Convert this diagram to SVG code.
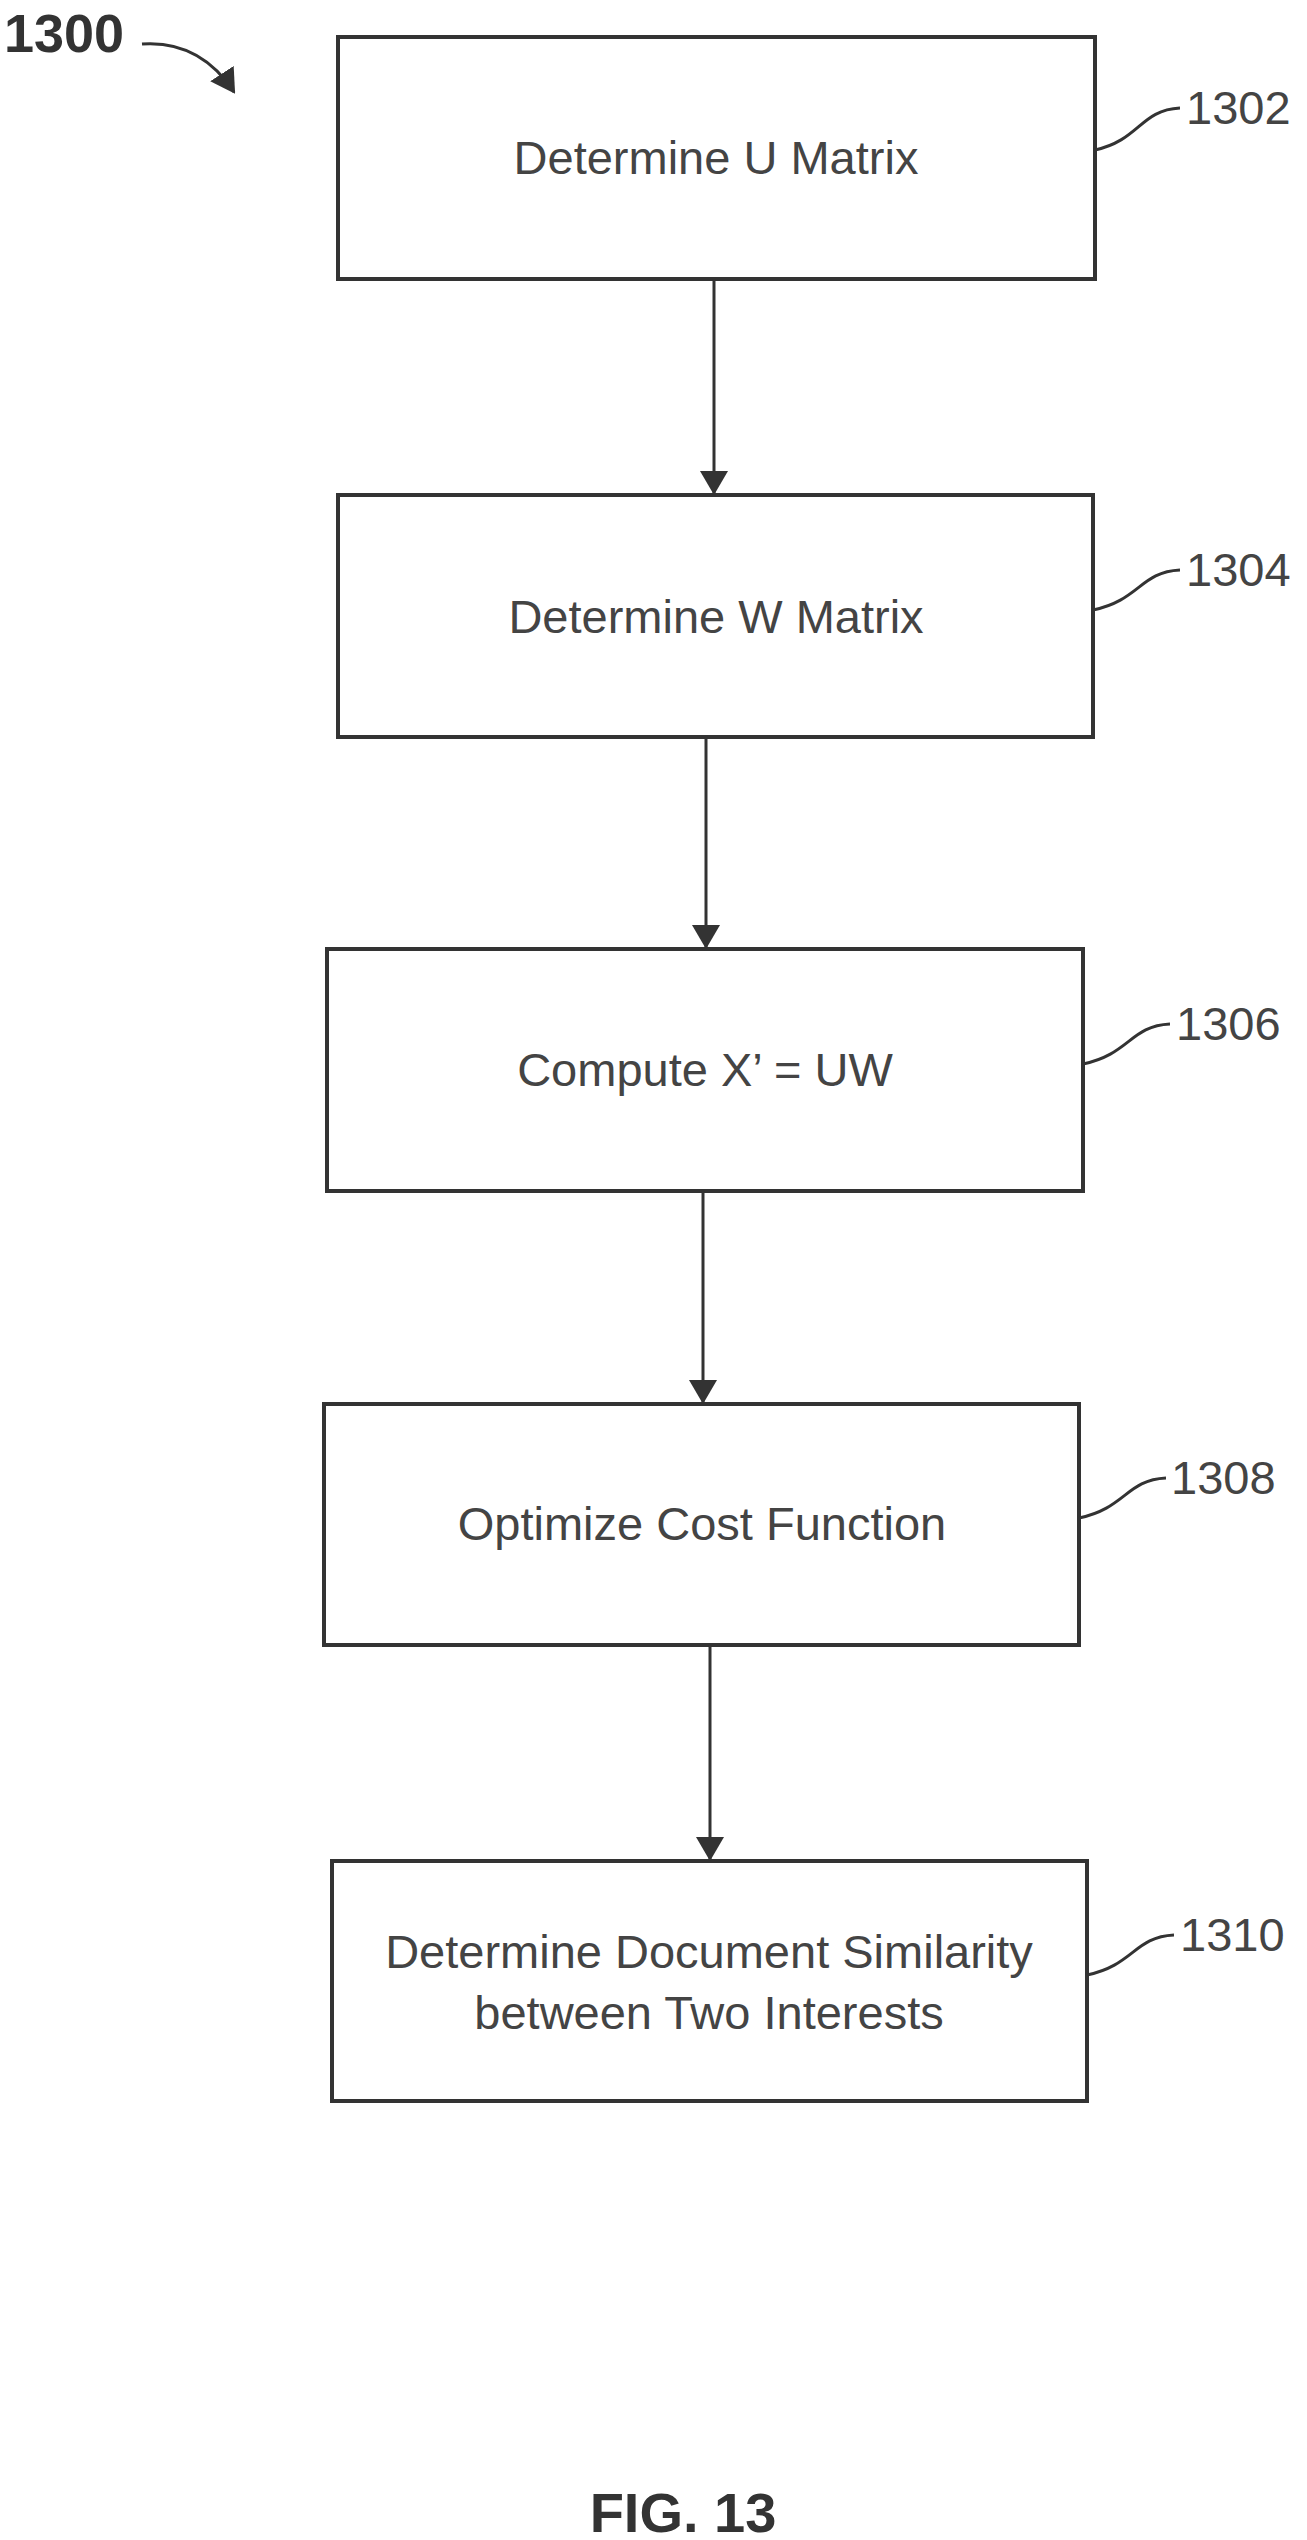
<svg xmlns="http://www.w3.org/2000/svg" width="1307" height="2540" viewBox="0 0 1307 2540">
<style>
.box{fill:#fff;stroke:#333;stroke-width:4}
.t{font-family:"Liberation Sans",Arial,sans-serif;font-size:47px;fill:#444;text-anchor:middle}
.ref{font-family:"Liberation Sans",Arial,sans-serif;font-size:47px;fill:#444}
.ln{fill:none;stroke:#333;stroke-width:3}
</style>
<defs>
<marker id="a2" markerWidth="24" markerHeight="28" refX="22" refY="14" orient="auto" markerUnits="userSpaceOnUse"><path d="M0,0 L24,14 L0,28 z" fill="#333"/></marker></defs>
<text x="4" y="52" style="font-family:'Liberation Sans',Arial,sans-serif;font-size:54px;font-weight:bold;fill:#333">1300</text>
<path class="ln" d="M142,44 Q200,40 234,92" stroke-width="5" marker-end="url(#a2)"/>
<g id="n1302"><rect class="box" x="338" y="37" width="757" height="242"/><text class="t" x="716" y="174">Determine U Matrix</text><path class="ln" d="M1095,150 C1140,140 1140,110 1180,108"/><text class="ref" x="1186" y="124">1302</text></g>
<g id="n1304"><rect class="box" x="338" y="495" width="755" height="242"/><text class="t" x="716" y="633">Determine W Matrix</text><path class="ln" d="M1093,610 C1140,600 1140,572 1180,570"/><text class="ref" x="1186" y="586">1304</text></g>
<g id="n1306"><rect class="box" x="327" y="949" width="756" height="242"/><text class="t" x="705" y="1086">Compute X’ = UW</text><path class="ln" d="M1083,1064 C1130,1054 1130,1026 1170,1024"/><text class="ref" x="1176" y="1040">1306</text></g>
<g id="n1308"><rect class="box" x="324" y="1404" width="755" height="241"/><text class="t" x="702" y="1540">Optimize Cost Function</text><path class="ln" d="M1079,1518 C1126,1508 1126,1480 1166,1478"/><text class="ref" x="1171" y="1494">1308</text></g>
<g id="n1310"><rect class="box" x="332" y="1861" width="755" height="240"/><text class="t" x="709" y="1968">Determine Document Similarity</text><text class="t" x="709" y="2029">between Two Interests</text><path class="ln" d="M1087,1975 C1134,1965 1134,1937 1174,1935"/><text class="ref" x="1180" y="1951">1310</text></g>
<g id="connectors">
<line class="ln" x1="714" y1="279" x2="714" y2="493" marker-end="url(#a2)"/>
<line class="ln" x1="706" y1="737" x2="706" y2="947" marker-end="url(#a2)"/>
<line class="ln" x1="703" y1="1191" x2="703" y2="1402" marker-end="url(#a2)"/>
<line class="ln" x1="710" y1="1645" x2="710" y2="1859" marker-end="url(#a2)"/>
</g>
<text x="683" y="2532" style="font-family:'Liberation Sans',Arial,sans-serif;font-size:56px;font-weight:bold;fill:#333;text-anchor:middle">FIG. 13</text>
</svg>
